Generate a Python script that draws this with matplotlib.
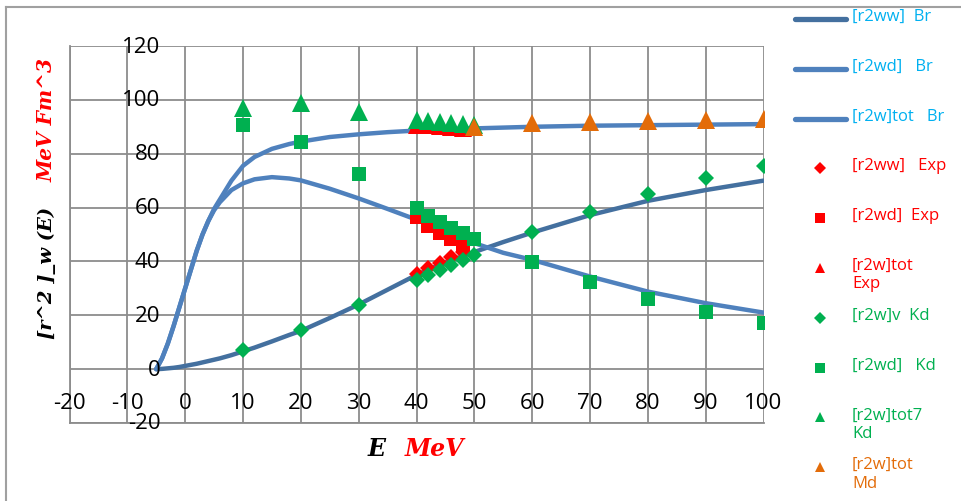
import matplotlib
matplotlib.use("Agg")
import matplotlib.pyplot as plt
from matplotlib.lines import Line2D

# Br model curves
E_br = [-5, -4, -3, -2, -1, 0, 1, 2, 3, 4, 5, 6, 8, 10, 12, 15, 18, 20, 25, 30,
        35, 40, 45, 50, 55, 60, 70, 80, 90, 100]
ww_br = [0, 0.1, 0.3, 0.5, 0.8, 1.2, 1.6, 2.0, 2.5, 3.0, 3.5, 4.0, 5.2, 6.6, 8.0, 10.3,
         12.7, 14.2, 19.0, 24.0, 29.5, 35.0, 39.7, 43.5, 47.2, 50.7, 57.2, 62.5, 66.5, 70.0]
wd_br = [0, 4, 9.5, 16, 23, 30, 37, 44, 50, 55, 59, 62, 66.5, 69, 70.5, 71.3,
         70.8, 70.1, 67.0, 63.4, 59.5, 55.5, 51.0, 46.8, 43.2, 40.6, 34.4, 28.8, 24.5, 21.0]
tot_br = [0, 4, 9.5, 16, 23, 30, 37, 44, 50, 55, 59.5, 63, 70, 75.5, 78.8, 81.8,
          83.6, 84.5, 86.2, 87.2, 88.0, 88.6, 89.0, 89.4, 89.7, 90.0, 90.4, 90.6, 90.8, 91.0]

# experimental points
E_exp = [40, 42, 44, 46, 48]
ww_exp = [35.5, 37.5, 39.5, 41.5, 43.5]
wd_exp = [56.5, 53.0, 50.5, 48.5, 46.5]
tot_exp = [90.8, 90.5, 90.2, 89.9, 89.5]

# Kd points
E_kd = [10, 20, 30, 40, 42, 44, 46, 48, 50, 60, 70, 80, 90, 100]
v_kd = [7, 14.5, 23.8, 33, 35, 37, 38.5, 40.5, 42.5, 51, 58.5, 65, 71, 75.6]
wd_kd = [90.7, 84.5, 72.4, 59.7, 57, 54.5, 52.5, 50.5, 48.5, 39.7, 32.3, 26.1, 21.1, 17]
E_kd7 = [10, 20, 30, 40, 42, 44, 46, 48, 50]
tot7_kd = [97.1, 99, 95.6, 92.4, 92.1, 91.8, 91.4, 91.0, 90.6]

# Md points
E_md = [50, 60, 70, 80, 90, 100]
tot_md = [89.8, 91.3, 91.9, 92.2, 92.5, 92.9]

x_ticks = list(range(-20, 101, 10))
y_ticks = list(range(-20, 121, 20))

BLUE_D = "#44709f"
BLUE = "#4f81bd"
RED = "#ff0000"
GREEN = "#00b050"
ORANGE = "#e36c09"
CYAN = "#00b0f0"
GRID = "#8c8c8c"
SANS = ["Open Sans", "DejaVu Sans"]
SERIF = dict(family="DejaVu Serif", style="italic", weight="bold")

fig = plt.figure(figsize=(9.61, 5.02), dpi=100)
ax = fig.add_axes([69.5 / 961, 78 / 502, 694 / 961, 377 / 502])

series = [
    (E_br, ww_br, dict(color=BLUE_D, lw=3.2), "[r2ww]  Br", CYAN),
    (E_br, wd_br, dict(color=BLUE, lw=3.2), "[r2wd]   Br", CYAN),
    (E_br, tot_br, dict(color=BLUE, lw=3.2), "[r2w]tot   Br", CYAN),
    (E_exp, ww_exp, dict(ls="none", marker="D", ms=8.5, color=RED), "[r2ww]   Exp", RED),
    (E_exp, wd_exp, dict(ls="none", marker="s", ms=10, color=RED), "[r2wd]  Exp", RED),
    (E_exp, tot_exp, dict(ls="none", marker="^", ms=12.5, color=RED), "[r2w]tot\nExp", RED),
    (E_kd, v_kd, dict(ls="none", marker="D", ms=8.5, color=GREEN), "[r2w]v  Kd", GREEN),
    (E_kd, wd_kd, dict(ls="none", marker="s", ms=10, color=GREEN), "[r2wd]   Kd", GREEN),
    (E_kd7, tot7_kd, dict(ls="none", marker="^", ms=12.5, color=GREEN), "[r2w]tot7\nKd", GREEN),
    (E_md, tot_md, dict(ls="none", marker="^", ms=12.5, color=ORANGE), "[r2w]tot\nMd", ORANGE),
]

for xs, ys, style, _, _ in series:
    ax.plot(xs, ys, solid_capstyle="round", solid_joinstyle="round", mew=0, **style)

ax.set_xlim(-20, 100)
ax.set_ylim(-20, 120)
ax.set_xticks(x_ticks)
ax.set_yticks(y_ticks)
ax.grid(True, color=GRID, lw=1.3)
ax.set_axisbelow(True)
ax.tick_params(length=0, labelbottom=False, labelleft=False)
for sp in ax.spines.values():
    sp.set_color(GRID)
    sp.set_linewidth(1.3)
ax.spines["right"].set_visible(False)
ax.spines["top"].set_visible(False)

# Excel-style axis labels sitting inside the plot area
for xv in x_ticks:
    ax.text(xv, -12.3, str(xv), ha="center", va="center", fontsize=16, family=SANS)
for yv in y_ticks:
    ax.text(-4.3, yv, str(yv), ha="right", va="center", fontsize=16, family=SANS)

# axis titles
ax.text(0.455, -0.065, "E", transform=ax.transAxes, ha="right", va="center",
        fontsize=17, **SERIF)
ax.text(0.483, -0.065, "MeV", transform=ax.transAxes, ha="left", va="center",
        fontsize=17, color=RED, **SERIF)
fig.text(47 / 961, 1 - 207 / 502, "[r^2 ]_w (E)", rotation=90, ha="center", va="top",
         fontsize=14, **SERIF)
fig.text(47 / 961, 1 - 182 / 502, "MeV Fm^3", rotation=90, ha="center", va="bottom",
         fontsize=14.5, color=RED, **SERIF)

# legend, laid out like the Excel one
for i, (_, _, style, label, tcolor) in enumerate(series):
    yc = 1 - (20 + 49.8 * i) / 502
    if style.get("ls") == "none":
        small = {"D": 6, "s": 7.5, "^": 7.5}[style["marker"]]
        fig.add_artist(Line2D([820 / 961], [yc], ls="none", marker=style["marker"], ms=small,
                              mew=0, color=style["color"], transform=fig.transFigure))
    else:
        fig.add_artist(Line2D([795 / 961, 846 / 961], [yc, yc], color=style["color"],
                              lw=3.8, solid_capstyle="round", transform=fig.transFigure))
    fig.text(852 / 961, yc + 11 / 502, label, ha="left", va="top", fontsize=12,
             family=SANS, color=tcolor, linespacing=1.2)

# chart-area frame
fig.add_artist(Line2D([6 / 961, 6 / 961], [0, 1 - 8 / 502], color="#a0a0a0", lw=1.5,
                      transform=fig.transFigure))
fig.add_artist(Line2D([6 / 961, 1], [1 - 8 / 502, 1 - 8 / 502], color="#a0a0a0", lw=1.5,
                      transform=fig.transFigure))

fig.savefig("out.png", dpi=100)
